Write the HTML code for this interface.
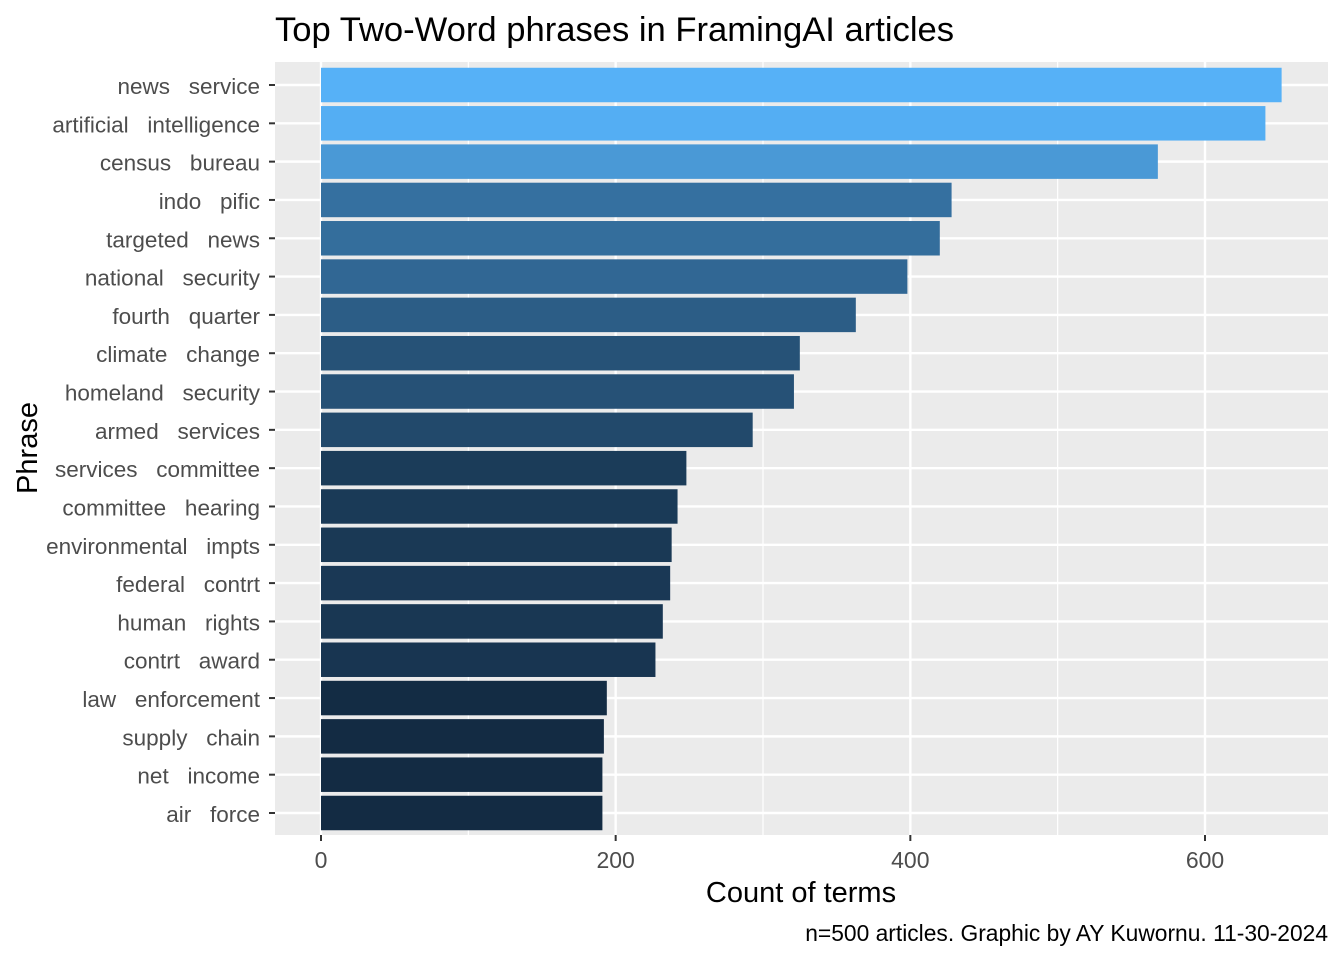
<!DOCTYPE html>
<html><head><meta charset="utf-8"><style>
body{margin:0;background:#fff;font-family:"Liberation Sans",Arial,sans-serif}
svg text{font-family:"Liberation Sans",Arial,sans-serif;white-space:pre}
</style></head><body>
<svg id="chart" width="1344" height="960" xmlns="http://www.w3.org/2000/svg">
<rect width="1344" height="960" fill="#fff"/>
<text x="275" y="41" font-size="34.6" fill="#000">Top Two-Word phrases in FramingAI articles</text>
<rect x="275" y="62" width="1053" height="773" fill="#EBEBEB"/>
<g id="grid"></g><g id="bars"></g><g id="yaxis"></g><g id="xaxis"></g>
<text x="801" y="902" font-size="29" text-anchor="middle" fill="#000">Count of terms</text>
<text transform="translate(37,448) rotate(-90)" font-size="29" text-anchor="middle" fill="#000">Phrase</text>
<text x="1328" y="941" font-size="22.8" text-anchor="end" fill="#000">n=500 articles. Graphic by AY Kuwornu. 11-30-2024</text>
</svg>
<script>
const categories=["news   service","artificial   intelligence","census   bureau","indo   pific","targeted   news","national   security","fourth   quarter","climate   change","homeland   security","armed   services","services   committee","committee   hearing","environmental   impts","federal   contrt","human   rights","contrt   award","law   enforcement","supply   chain","net   income","air   force"];
const counts=[652,641,568,428,420,398,363,325,321,293,248,242,238,237,232,227,194,192,191,191];
const xTicks=[0,200,400,600];
const xMinor=[100,300,500];
const NS="http://www.w3.org/2000/svg";
const px0=321,pxPer=(1205-321)/600;
const x=v=>px0+v*pxPer;
const top0=85,step=(813-85)/19;
const y=i=>top0+i*step;
const bh=step*0.9;
const lo=[0x13,0x2B,0x43],hi=[0x56,0xB1,0xF7];
const vmin=Math.min(...counts),vmax=Math.max(...counts);
function col(v){const t=(v-vmin)/(vmax-vmin);return "rgb("+lo.map((a,k)=>Math.round(a+(hi[k]-a)*t)).join(",")+")";}
function mk(tag,attrs,parent){const e=document.createElementNS(NS,tag);for(const k in attrs)e.setAttribute(k,attrs[k]);document.getElementById(parent).appendChild(e);return e;}
xMinor.forEach(v=>{const l=mk("line",{x1:x(v),x2:x(v),y1:62,y2:835,stroke:"#fff","stroke-width":1.2},"grid");

});
xTicks.forEach(v=>{const l=mk("line",{x1:x(v),x2:x(v),y1:62,y2:835,stroke:"#fff","stroke-width":2.4},"grid");


const t=mk("line",{x1:x(v),x2:x(v),y1:835,y2:841,stroke:"#333","stroke-width":2},"xaxis");


const tx=mk("text",{x:x(v),y:868,"font-size":23,fill:"#4D4D4D","text-anchor":"middle"},"xaxis");tx.textContent=v;

});
categories.forEach((c,i)=>{const g=mk("line",{x1:275,x2:1328,y1:y(i),y2:y(i),stroke:"#fff","stroke-width":2.4},"grid");


const r=mk("rect",{x:x(0),y:y(i)-bh/2,width:x(counts[i])-x(0),height:bh,fill:col(counts[i])},"bars");


const t=mk("line",{x1:269,x2:275,y1:y(i),y2:y(i),stroke:"#333","stroke-width":2},"yaxis");


const tx=mk("text",{x:260,y:y(i)+9,"font-size":22.5,fill:"#4D4D4D","text-anchor":"end"},"yaxis");tx.textContent=c;

});
</script>
</body></html>
